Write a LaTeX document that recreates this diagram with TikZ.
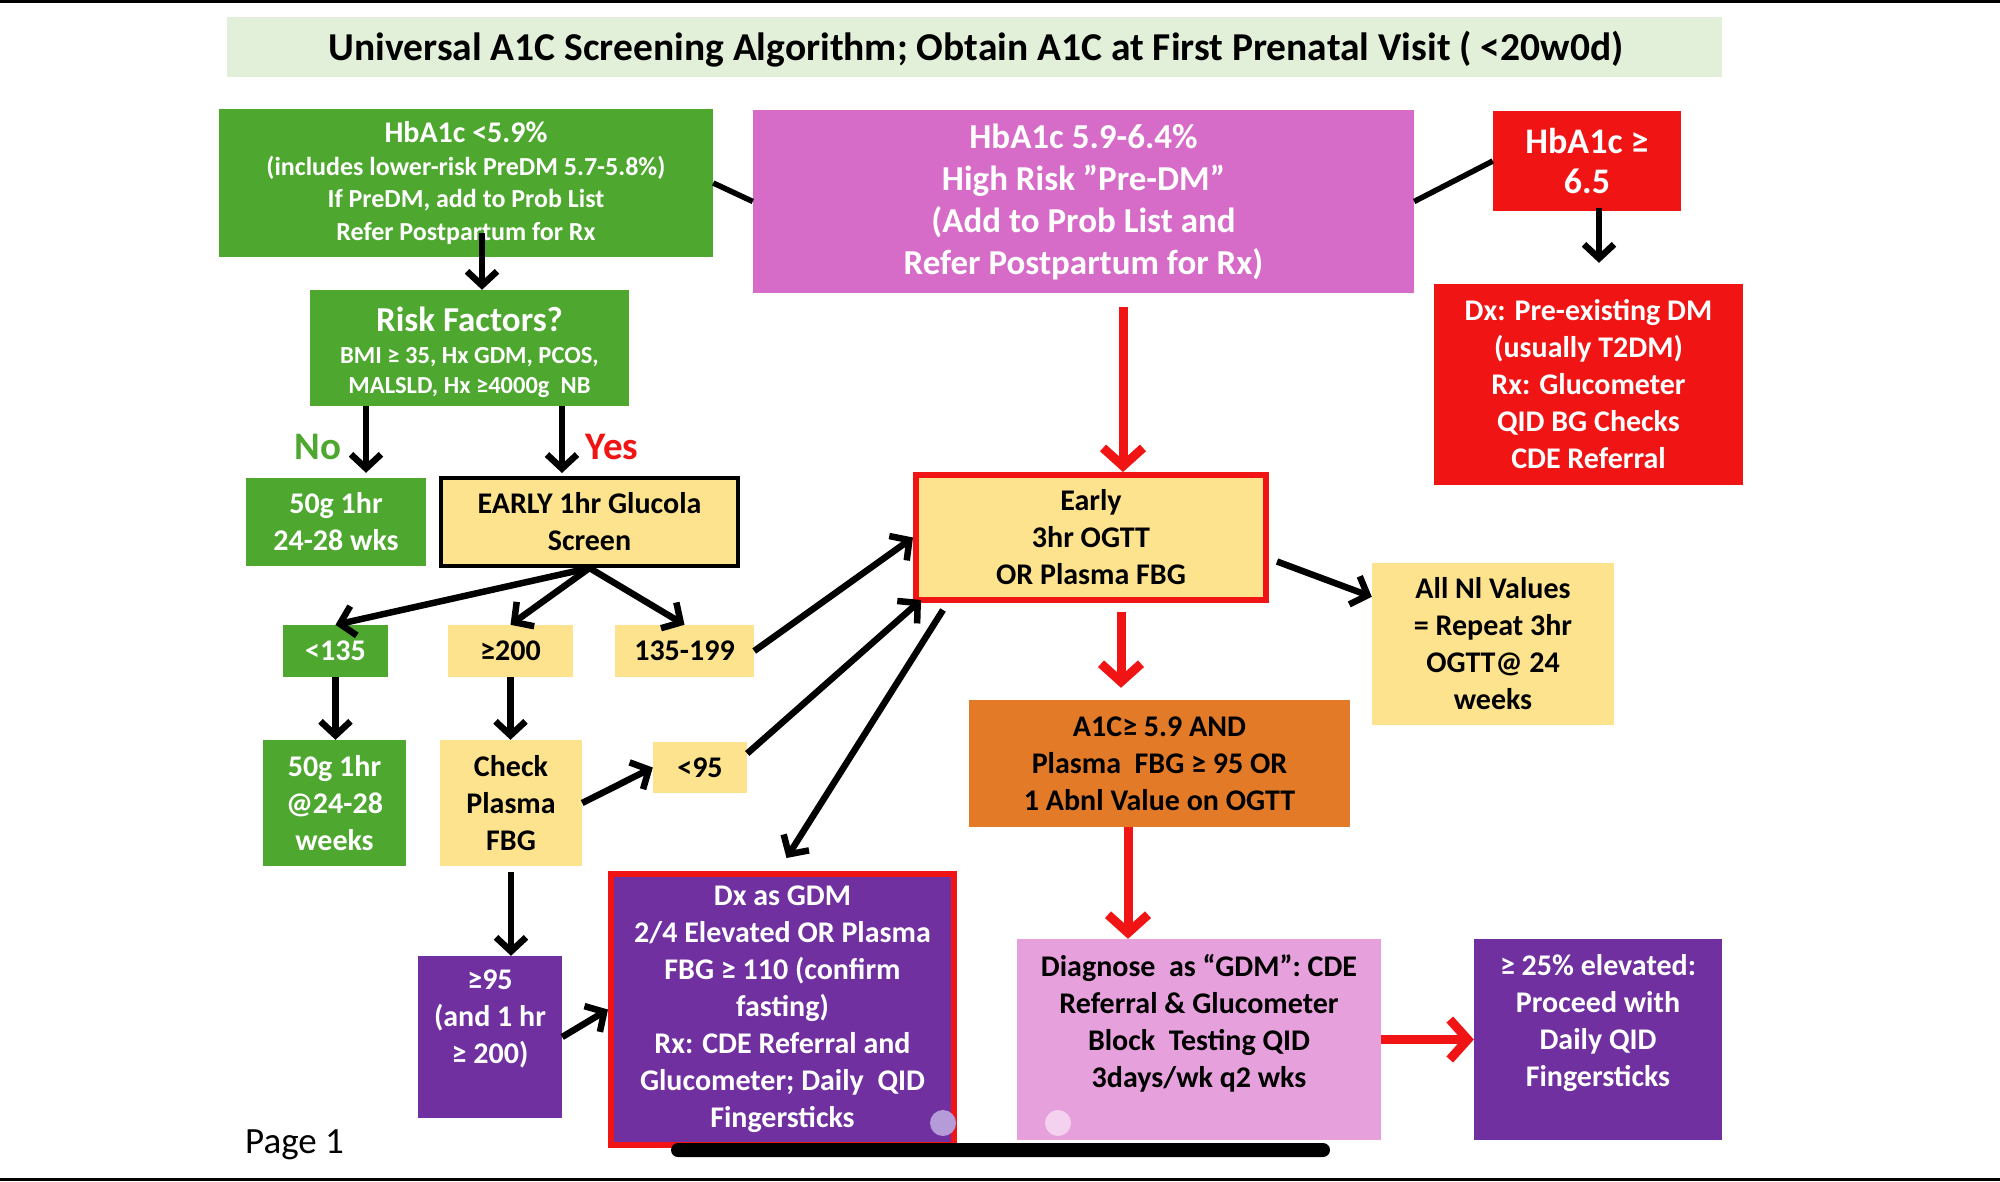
\documentclass[tikz,border=0pt]{standalone}
\usepackage{fontspec}
\setmainfont{Carlito}
\usetikzlibrary{arrows.meta,calc}
\definecolor{titlebg}{HTML}{E2F0D9}
\definecolor{gr}{HTML}{4EA72E}
\definecolor{pk}{HTML}{D66CC8}
\definecolor{rd}{HTML}{F01414}
\definecolor{yl}{HTML}{FDE38E}
\definecolor{orng}{HTML}{E27A28}
\definecolor{lpk}{HTML}{E6A0DC}
\definecolor{pur}{HTML}{7030A0}
\definecolor{dotA}{HTML}{B69BD9}
\definecolor{dotB}{HTML}{F4D2EF}
\begin{document}
\begin{tikzpicture}[x=1pt,y=-1pt,
  box/.style={rectangle, inner sep=0pt, align=center, font=\bfseries\fontsize{30}{37}\selectfont},
  txt/.style={inner sep=0pt, align=center, font=\bfseries\fontsize{30}{37}\selectfont},
  arr/.style={line width=6.5pt, -{Straight Barb[length=14pt,width=30pt]}},
  rarr/.style={draw=rd, line width=9pt, -{Straight Barb[length=18pt,width=40pt]}},
  ln/.style={line width=5.5pt}]
\useasboundingbox (0,0) rectangle (2000,1181);
\fill[white] (0,0) rectangle (2000,1181);
\fill[black] (0,0) rectangle (2000,3);
\fill[black] (0,1178) rectangle (2000,1181);

\node[box, fill=titlebg, minimum width=1495pt, minimum height=60pt] (title) at (974.5,47) {};
\node[txt, font=\bfseries\fontsize{39.5}{44}\selectfont] (titlet) at (976,49) {Universal A1C Screening Algorithm; Obtain A1C at First Prenatal Visit ( <20w0d)};

\node[box, fill=gr, text=white, minimum width=494pt, minimum height=148pt, font=\bfseries\fontsize{26}{32.5}\selectfont] (g1) at (466,183) {{\fontsize{30}{32}\selectfont HbA1c <5.9\%}\\(includes lower-risk PreDM 5.7-5.8\%)\\If PreDM, add to Prob List\\Refer Postpartum for Rx};

\node[box, fill=pk, text=white, minimum width=661pt, minimum height=183pt, font=\bfseries\fontsize{35}{42}\selectfont] (pink) at (1083.5,201.5) {HbA1c 5.9-6.4\%\\High Risk ”Pre-DM”\\(Add to Prob List and\\Refer Postpartum for Rx)};

\node[box, fill=rd, text=white, minimum width=188pt, minimum height=100pt, font=\bfseries\fontsize{36}{40}\selectfont] (red1) at (1587,161) {HbA1c ≥\\6.5};

\node[box, fill=rd, text=white, minimum width=309pt, minimum height=201pt] (red2) at (1588.5,384.5) {Dx: Pre-existing DM\\(usually T2DM)\\Rx: Glucometer\\QID BG Checks\\CDE Referral};

\node[box, fill=gr, text=white, minimum width=319pt, minimum height=116pt] (risk) at (469.5,348) {};
\node[txt, text=white, font=\bfseries\fontsize{24.5}{30}\selectfont] (riskt) at (469.5,352) {{\fontsize{35}{30}\selectfont Risk Factors?}\\[2pt]BMI ≥ 35, Hx GDM, PCOS,\\MALSLD, Hx ≥4000g\ \ NB};

\node[font=\bfseries\fontsize{39}{39}\selectfont, text=gr, inner sep=0pt] (nolab) at (318,447) {No};
\node[font=\bfseries\fontsize{39}{39}\selectfont, text=rd, inner sep=0pt] (yeslab) at (612,447) {Yes};

\node[box, fill=gr, text=white, minimum width=180pt, minimum height=88pt] (no50) at (336,522) {50g 1hr\\24-28 wks};
\node[box, fill=yl, draw=black, line width=4pt, minimum width=297pt, minimum height=88pt] (early1) at (589.5,522) {EARLY 1hr Glucola\\Screen};

\node[box, fill=gr, text=white, minimum width=105pt, minimum height=52pt] (lt135) at (335.5,651) {<135};
\node[box, fill=yl, minimum width=125pt, minimum height=52pt] (ge200) at (510.5,651) {≥200};
\node[box, fill=yl, minimum width=139pt, minimum height=52pt] (r135) at (684.5,651) {135-199};

\node[box, fill=gr, text=white, minimum width=143pt, minimum height=126pt] (g50b) at (334.5,803) {50g 1hr\\@24-28\\weeks};
\node[box, fill=yl, minimum width=142pt, minimum height=126pt] (check) at (511,803) {Check\\Plasma\\FBG};
\node[box, fill=yl, minimum width=94pt, minimum height=51pt] (lt95) at (700,767.5) {<95};

\node[box, fill=pur, minimum width=144pt, minimum height=162pt] (ge95) at (490,1037) {};
\node[txt, text=white] (ge95t) at (490,1019) {≥95\\(and 1 hr\\≥ 200)};

\node[box, fill=pur, text=white, draw=rd, line width=6pt, minimum width=343pt, minimum height=271pt] (gdm) at (782.5,1009.5) {Dx as GDM\\2/4 Elevated OR Plasma\\FBG ≥ 110 (confirm\\fasting)\\Rx: CDE Referral and\\Glucometer; Daily\ \ QID\\Fingersticks};

\node[box, fill=yl, draw=rd, line width=6pt, minimum width=350pt, minimum height=125pt] (ogtt) at (1091,537.5) {Early\\3hr OGTT\\OR Plasma FBG};

\node[box, fill=yl, minimum width=242pt, minimum height=162pt] (alln) at (1493,644) {All Nl Values\\= Repeat 3hr\\OGTT@ 24\\weeks};

\node[box, fill=orng, minimum width=381pt, minimum height=127pt] (orange) at (1159.5,763.5) {A1C≥ 5.9 AND\\Plasma\ \ FBG ≥ 95 OR\\1 Abnl Value on OGTT};

\node[box, fill=lpk, minimum width=364pt, minimum height=201pt] (diag) at (1199,1039.5) {};
\node[txt] (diagt) at (1199,1023) {Diagnose\ \ as “GDM”: CDE\\Referral \& Glucometer\\Block\ \ Testing QID\\3days/wk q2 wks};

\node[box, fill=pur, minimum width=248pt, minimum height=201pt] (p25) at (1598,1039.5) {};
\node[txt, text=white] (p25t) at (1598,1023) {≥ 25\% elevated:\\Proceed with\\Daily QID\\Fingersticks};

\node[anchor=base west, font=\fontsize{37}{37}\selectfont, inner sep=0pt] (page) at (245,1153) {Page 1};

% connectors
\draw[ln] (g1.east) -- (pink.west);
\draw[ln] (pink.east) -- (red1.west);
\draw[arr] ([xshift=16pt,yshift=24pt]g1.south) -- ([xshift=16pt]g1.south |- risk.north);
\draw[arr, shorten >=21pt] ([xshift=12pt,yshift=3pt]red1.south) -- ([xshift=12pt]red1.south |- red2.north);
\draw[arr] ([xshift=-103.5pt]risk.south) -- ([xshift=-103.5pt,yshift=5pt]risk.south |- no50.north);
\draw[arr] ([xshift=92.5pt]risk.south) -- ([xshift=92.5pt,yshift=3pt]risk.south |- early1.north);
\draw[arr] (early1.south) -- (lt135.north);
\draw[arr] (early1.south) -- (ge200.north);
\draw[arr] (early1.south) -- (r135.north);
\draw[arr] (lt135.south) -- (lt135.south |- g50b.north);
\draw[arr] (ge200.south) -- (ge200.south |- check.north);
\draw[arr] (check.east) -- (lt95.west);
\draw[arr] ([yshift=-6pt]check.south) -- (check.south |- ge95.north);
\draw[arr] (ge95.east) -- (gdm.west);
\draw[arr] (r135.east) -- (ogtt.west);
\draw[arr] ([yshift=14pt]lt95.east) -- ([xshift=8pt,yshift=3pt]ogtt.south west);
\draw[arr] ([xshift=30pt,yshift=-7pt]ogtt.south west) -- ([xshift=4pt,yshift=13pt]gdm.north);
\draw[arr] ([xshift=8pt,yshift=-24pt]ogtt.east) -- ([yshift=-34pt]alln.north west);

\draw[rarr] ([xshift=39.5pt,yshift=-14pt]pink.south) -- ([xshift=39.5pt]pink.south |- ogtt.north);
\draw[rarr, shorten >=12pt] ([xshift=30pt,yshift=-9pt]ogtt.south) -- ([xshift=30pt]ogtt.south |- orange.north);
\draw[rarr] ([xshift=-31.5pt]orange.south) -- ([xshift=-31.5pt]orange.south |- diag.north);
\draw[rarr] (diag.east) -- (p25.west);

% video overlay
\fill[black, rounded corners=7pt] (671,1143) rectangle (1330,1157);
\fill[dotA] (943,1123) circle (13pt);
\fill[dotB] (1058,1123) circle (13pt);
\end{tikzpicture}
\end{document}
